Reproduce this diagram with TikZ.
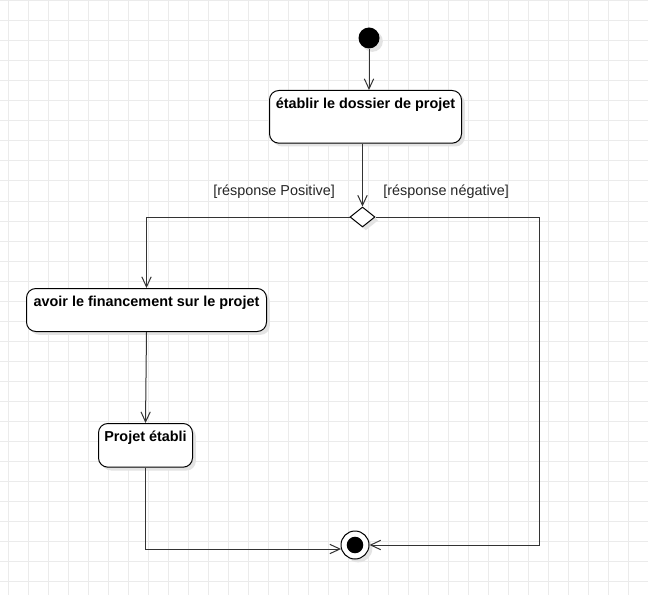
\documentclass[tikz,border=0pt]{standalone}
\usepackage{fontspec}
\setmainfont{Liberation Sans}
\usetikzlibrary{arrows.meta}
\usetikzlibrary{shapes.geometric}
\usetikzlibrary{shadows}

\tikzset{
  shade box/.style={drop shadow={shadow xshift=2.5pt, shadow yshift=-2.5pt, fill=black!11, opacity=1}},
  activity/.style={draw=black, fill=white, rounded corners=7pt, line width=0.75pt, anchor=north west,
    inner xsep=2pt, inner ysep=0pt, text height=13.5pt, font=\fontsize{10.8pt}{13pt}\selectfont\bfseries, shade box},
  startnode/.style={circle, fill=black, minimum size=15.75pt, inner sep=0pt, shade box},
  endnode/.style={circle, draw=black, fill=white, line width=0.75pt, minimum size=21pt, inner sep=0pt, shade box,
    path picture={\fill[black] (path picture bounding box.center) circle (6.2pt);}},
  decision/.style={diamond, draw=black, fill=white, line width=0.75pt, minimum width=18.75pt, minimum height=15pt, inner sep=0pt, shade box},
  flow/.style={draw=black!80, line width=0.75pt, -{Straight Barb[length=7.5pt,width=7pt]}},
  guard/.style={anchor=west, inner sep=0pt, text=black!85, font=\fontsize{10.8pt}{13pt}\selectfont},
  gridline/.style={draw=black!8, line width=0.75pt}
}

\begin{document}
\begin{tikzpicture}[x=0.75pt,y=0.75pt,yscale=-1,xscale=1]
\useasboundingbox (0,0) rectangle (648,595);
\fill[white] (0,0) rectangle (648,595);

% grid
\foreach \gx in {8,28,...,648} \draw[gridline] (\gx,0) -- (\gx,595);
\foreach \gy in {1,21,...,595} \draw[gridline] (0,\gy) -- (648,\gy);

% Nodes
\node[startnode] (start) at (369,38) {};
\node[activity, minimum width=144pt, text depth=26pt] (dossier) at (269,90) {établir le dossier de projet};
\node[decision] (choix) at (362.5,217) {};
\node[activity, minimum width=180pt, text depth=18.75pt] (financement) at (26,288) {avoir le financement sur le projet};
\node[activity, minimum width=70.5pt, text depth=19.25pt] (etabli) at (98,423) {Projet établi};
\node[endnode] (fin) at (355,545) {};
\coordinate (coin) at (539,380);

% Guards
\node[guard] (positif) at (213,192) {[résponse Positive]};
\node[guard] (negatif) at (383,192) {[résponse négative]};

% Flows
\draw[flow] (start.south) -- (start.south |- dossier.north);
\draw[flow] (dossier.south -| choix.north) -- (choix.north);
\draw[flow] (choix.west) -| (financement.north);
\draw[flow] (financement.south) -- (etabli.north);
\draw[flow] (etabli.south) |- (fin.196);
\draw[flow] (choix.east) -| (coin) |- (fin.east);

\end{tikzpicture}
\end{document}
